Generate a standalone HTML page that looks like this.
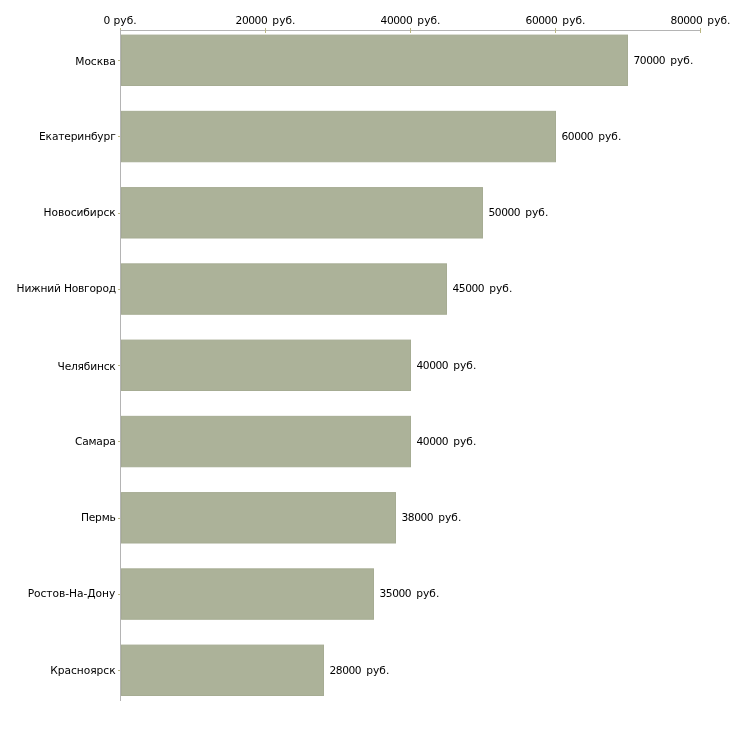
<!DOCTYPE html>
<html lang="ru">
<head>
<meta charset="utf-8">
<title>Зарплаты по городам</title>
<style>
html,body{margin:0;padding:0;background:#fff;}
body{width:730px;height:730px;overflow:hidden;}
svg{display:block;}
text{font-family:"DejaVu Sans","Liberation Sans",sans-serif;font-size:10.67px;fill:#000;}
.c{letter-spacing:-0.2px;}
.v{letter-spacing:0px;}
.bar{fill:#acb299;stroke:#a6ac93;stroke-width:1;}
.ax{stroke:#b4b4b4;stroke-width:1;shape-rendering:crispEdges;}
.tk{stroke:#bab783;stroke-width:1;shape-rendering:crispEdges;}
</style>
</head>
<body>
<svg width="730" height="730" viewBox="0 0 730 730">
<rect x="0" y="0" width="730" height="730" fill="#ffffff"/>
<rect class="bar" x="121.5" y="35.10" width="506" height="50.4"/>
<rect class="bar" x="121.5" y="111.35" width="434" height="50.4"/>
<rect class="bar" x="121.5" y="187.60" width="361" height="50.4"/>
<rect class="bar" x="121.5" y="263.85" width="325" height="50.4"/>
<rect class="bar" x="121.5" y="340.10" width="289" height="50.4"/>
<rect class="bar" x="121.5" y="416.35" width="289" height="50.4"/>
<rect class="bar" x="121.5" y="492.60" width="274" height="50.4"/>
<rect class="bar" x="121.5" y="568.85" width="252" height="50.4"/>
<rect class="bar" x="121.5" y="645.10" width="202" height="50.4"/>
<line class="ax" x1="120.5" y1="30" x2="120.5" y2="701"/>
<line class="ax" x1="120" y1="30.5" x2="701" y2="30.5"/>
<line class="tk" x1="120.5" y1="28" x2="120.5" y2="30"/>
<text x="120" y="24" text-anchor="middle" class="v">0 руб.</text>
<line class="tk" x1="265.5" y1="28" x2="265.5" y2="33"/>
<text x="265" y="24" text-anchor="middle" class="v"><tspan dx="0.5" style="letter-spacing:-0.45px">20000</tspan><tspan dx="1.75"> руб.</tspan></text>
<line class="tk" x1="410.5" y1="28" x2="410.5" y2="33"/>
<text x="410" y="24" text-anchor="middle" class="v"><tspan dx="0.5" style="letter-spacing:-0.45px">40000</tspan><tspan dx="1.75"> руб.</tspan></text>
<line class="tk" x1="555.5" y1="28" x2="555.5" y2="33"/>
<text x="555" y="24" text-anchor="middle" class="v"><tspan dx="0.5" style="letter-spacing:-0.45px">60000</tspan><tspan dx="1.75"> руб.</tspan></text>
<line class="tk" x1="700.5" y1="28" x2="700.5" y2="33"/>
<text x="700" y="24" text-anchor="middle" class="v"><tspan dx="0.5" style="letter-spacing:-0.45px">80000</tspan><tspan dx="1.75"> руб.</tspan></text>
<line class="tk" x1="118" y1="60.5" x2="120" y2="60.5"/>
<text x="115.6" y="65" text-anchor="end" class="c" style="letter-spacing:-0.1px">Москва</text>
<text x="633" y="64" class="v"><tspan dx="0.5" style="letter-spacing:-0.45px">70000</tspan><tspan dx="1.75"> руб.</tspan></text>
<line class="tk" x1="118" y1="136.5" x2="120" y2="136.5"/>
<text x="115.6" y="140" text-anchor="end" class="c" style="letter-spacing:-0.15px">Екатеринбург</text>
<text x="561" y="140" class="v"><tspan dx="0.5" style="letter-spacing:-0.45px">60000</tspan><tspan dx="1.75"> руб.</tspan></text>
<line class="tk" x1="118" y1="213.5" x2="120" y2="213.5"/>
<text x="115.6" y="216" text-anchor="end" class="c" style="letter-spacing:-0.06px">Новосибирск</text>
<text x="488" y="216" class="v"><tspan dx="0.5" style="letter-spacing:-0.45px">50000</tspan><tspan dx="1.75"> руб.</tspan></text>
<line class="tk" x1="118" y1="289.5" x2="120" y2="289.5"/>
<text x="115.9" y="292" text-anchor="end" class="c" style="letter-spacing:-0.2px">Нижний Новгород</text>
<text x="452" y="292" class="v"><tspan dx="0.5" style="letter-spacing:-0.45px">45000</tspan><tspan dx="1.75"> руб.</tspan></text>
<line class="tk" x1="118" y1="365.5" x2="120" y2="365.5"/>
<text x="115.6" y="370" text-anchor="end" class="c" style="letter-spacing:-0.2px">Челябинск</text>
<text x="416" y="369" class="v"><tspan dx="0.5" style="letter-spacing:-0.45px">40000</tspan><tspan dx="1.75"> руб.</tspan></text>
<line class="tk" x1="118" y1="441.5" x2="120" y2="441.5"/>
<text x="115.6" y="445" text-anchor="end" class="c" style="letter-spacing:-0.2px">Самара</text>
<text x="416" y="445" class="v"><tspan dx="0.5" style="letter-spacing:-0.45px">40000</tspan><tspan dx="1.75"> руб.</tspan></text>
<line class="tk" x1="118" y1="518.5" x2="120" y2="518.5"/>
<text x="115.6" y="521" text-anchor="end" class="c" style="letter-spacing:-0.2px">Пермь</text>
<text x="401" y="521" class="v"><tspan dx="0.5" style="letter-spacing:-0.45px">38000</tspan><tspan dx="1.75"> руб.</tspan></text>
<line class="tk" x1="118" y1="594.5" x2="120" y2="594.5"/>
<text x="115.3" y="597" text-anchor="end" class="c" style="letter-spacing:-0.04px">Ростов-На-Дону</text>
<text x="379" y="597" class="v"><tspan dx="0.5" style="letter-spacing:-0.45px">35000</tspan><tspan dx="1.75"> руб.</tspan></text>
<line class="tk" x1="118" y1="670.5" x2="120" y2="670.5"/>
<text x="115.6" y="674" text-anchor="end" class="c" style="letter-spacing:-0.03px">Красноярск</text>
<text x="329" y="674" class="v"><tspan dx="0.5" style="letter-spacing:-0.45px">28000</tspan><tspan dx="1.75"> руб.</tspan></text>
</svg>
</body>
</html>
